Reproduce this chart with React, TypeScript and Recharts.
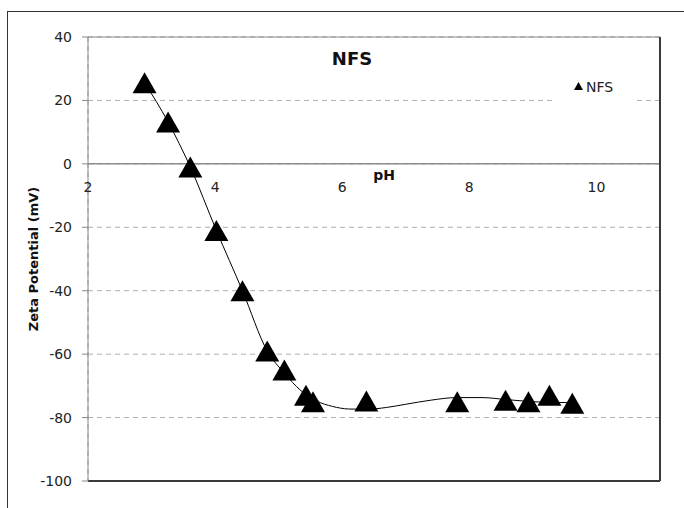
import React from 'react'
import {
  ComposedChart,
  Scatter,
  XAxis,
  YAxis,
  CartesianGrid,
  ReferenceLine,
  ReferenceDot
} from 'recharts'

// measured points (pH vs zeta potential)
const phValues = [2.89, 3.26, 3.61, 4.02, 4.43, 4.82, 5.09, 5.43, 5.54, 6.38, 7.81, 8.57, 8.93, 9.26, 9.62]
const zetaValues = [25.6, 13.2, -1, -21, -40, -59, -65, -73, -75, -74.8, -75, -74.5, -75, -73, -75.5]

// smoothed curve
const fitPh = [2.89, 3.26, 3.61, 4.02, 4.43, 4.82, 5.09, 5.35, 5.6, 5.85, 6.1, 6.38, 6.7, 7.0, 7.4, 7.8, 8.2, 8.57, 8.93, 9.26, 9.62]
const fitZeta = [25.6, 13.2, -1, -21, -40, -59, -66, -71.5, -74.8, -76.5, -77.3, -77.4, -76.8, -75.8, -74.5, -73.7, -73.7, -74.3, -74.9, -75.2, -75.3]

const xTicks = [2, 4, 6, 8, 10]
const yTicks = [-100, -80, -60, -40, -20, 0, 20, 40]

const seriesName = 'NFS'
const font = '"DejaVu Sans", Verdana, sans-serif'

const points = phValues.map((ph, i) => ({ ph, zeta: zetaValues[i] }))
const fitPoints = fitPh.map((ph, i) => ({ ph, zeta: fitZeta[i] }))

const Triangle = (props: any) => {
  const { cx, cy } = props
  if (cx == null || cy == null) return null
  const w = 24
  const h = 21
  return (
    <polygon
      points={`${cx},${cy - h / 2} ${cx - w / 2},${cy + h / 2} ${cx + w / 2},${cy + h / 2}`}
      fill="#000"
    />
  )
}

const NoDot = () => <g />

export default function App() {
  return (
    <div
      style={{
        position: 'absolute',
        left: 0,
        top: 0,
        width: 684,
        height: 508,
        overflow: 'hidden',
        background: '#fff',
        fontFamily: font
      }}
    >
      <div
        style={{
          position: 'absolute',
          left: 7,
          top: 11,
          width: 720,
          height: 600,
          borderTop: '1.5px solid #333',
          borderLeft: '1.5px solid #333'
        }}
      />
      <div style={{ position: 'absolute', left: 0, top: 0 }}>
        <ComposedChart
          width={684}
          height={508}
          margin={{ top: 37, right: 24, bottom: 27, left: 0 }}
        >
          <CartesianGrid stroke="#adadad" strokeDasharray="5 4" />
          <XAxis
            type="number"
            dataKey="ph"
            domain={[2, 11]}
            ticks={xTicks}
            height={0}
            tick={false}
            axisLine={false}
            tickLine={false}
          />
          <YAxis
            type="number"
            dataKey="zeta"
            domain={[-100, 40]}
            ticks={yTicks}
            width={88}
            axisLine={{ stroke: '#888' }}
            tickLine={{ stroke: '#888' }}
            tickSize={6}
            tickMargin={10}
            tick={{ fill: '#222', fontSize: 14, fontFamily: font }}
          />
          <ReferenceLine y={0} stroke="#8c8c8c" strokeWidth={1.5} />
          <ReferenceLine y={40} stroke="#888" ifOverflow="visible" />
          <ReferenceLine y={-100} stroke="#3a3a3a" strokeWidth={2} ifOverflow="visible" />
          <ReferenceLine x={11} stroke="#3a3a3a" strokeWidth={2} ifOverflow="visible" />
          {xTicks.map((t) => (
            <ReferenceDot
              key={t}
              x={t}
              y={0}
              r={1}
              fill="none"
              stroke="none"
              label={{
                value: String(t),
                position: 'bottom',
                offset: 17,
                fill: '#222',
                fontSize: 14,
                fontFamily: font
              }}
            />
          ))}
          <ReferenceDot
            x={6.66}
            y={0}
            r={1}
            fill="none"
            stroke="none"
            label={{
              value: 'pH',
              position: 'bottom',
              offset: 5,
              fill: '#111',
              fontSize: 14,
              fontWeight: 'bold',
              fontFamily: font
            }}
          />
          <Scatter
            name="fit"
            data={fitPoints}
            line={{ stroke: '#000', strokeWidth: 1 }}
            lineJointType="monotoneX"
            shape={NoDot}
            legendType="none"
            isAnimationActive={false}
          />
          <Scatter
            name={seriesName}
            data={points}
            shape={Triangle}
            fill="#000"
            isAnimationActive={false}
          />
        </ComposedChart>
      </div>
      <div
        style={{
          position: 'absolute',
          left: 302,
          top: 48,
          width: 100,
          textAlign: 'center',
          fontWeight: 'bold',
          fontSize: 18,
          color: '#111'
        }}
      >
        {seriesName}
      </div>
      <div
        style={{
          position: 'absolute',
          left: 33,
          top: 259,
          transform: 'translate(-50%, -50%) rotate(-90deg)',
          whiteSpace: 'nowrap',
          fontWeight: 'bold',
          fontSize: 13,
          color: '#111'
        }}
      >
        Zeta Potential (mV)
      </div>
      <div
        style={{
          position: 'absolute',
          left: 552,
          top: 72,
          width: 83,
          height: 30,
          background: '#fff',
          display: 'flex',
          alignItems: 'center',
          justifyContent: 'center',
          fontSize: 14,
          color: '#222'
        }}
      >
        <svg width={9} height={8} style={{ marginRight: 3, marginTop: -2 }}>
          <polygon points="4.5,0 0,8 9,8" fill="#000" />
        </svg>
        <span>{seriesName}</span>
      </div>
    </div>
  )
}
